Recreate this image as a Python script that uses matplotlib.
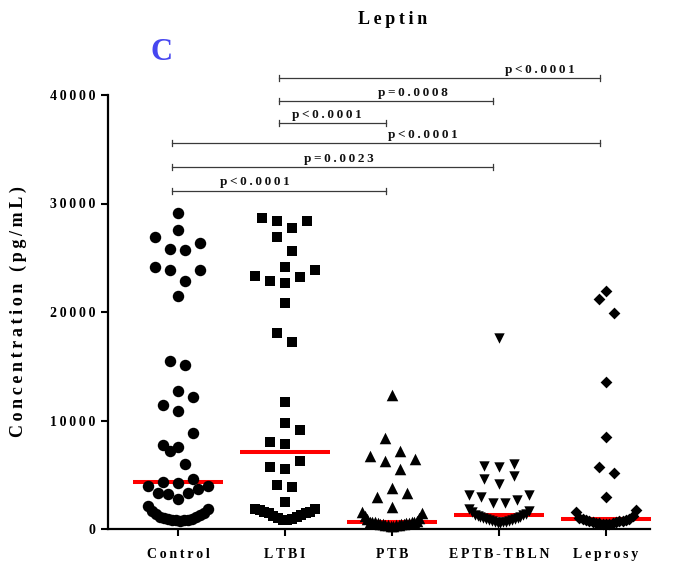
import numpy as np
import matplotlib
matplotlib.use("Agg")
import matplotlib.pyplot as plt

# ---------------- data ----------------
categories = ["Control", "LTBI", "PTB", "EPTB-TBLN", "Leprosy"]

control = [29100, 27530, 26940, 26330, 25840, 25690, 24150, 23870, 23870, 22890,
           21480, 15510, 15080, 12690, 12200, 11430, 10880, 8880, 7740, 7590,
           7190, 5960, 4580, 4360, 4270, 3960, 3960, 3690, 3350, 3350, 3200, 2740,
           2100, 1850, 1650, 1500, 1380, 1250, 1150, 1080, 1000, 950, 900, 870,
           830, 800, 790, 780]

ltbi = [28640, 28390, 28390, 27710, 26940, 25620, 24120, 23870, 23320, 23230,
        22860, 22700, 20800, 18100, 17240, 11740, 9800, 9130, 7990, 7810,
        6300, 5690, 5500, 4050, 3900, 2520,
        1820, 1820, 1750, 1600, 1600, 1500, 1450, 1300, 1200, 1100, 1000, 950, 850, 800]

ptb = [12350, 8360, 7220, 6730, 6450, 6300, 5530, 3750, 3290, 2980, 2000, 1600, 1450,
       1200, 1000, 880, 750, 680, 670, 650, 620, 600, 580, 550, 530, 500, 480, 450,
       430, 410, 390, 360, 340, 310, 280]

eptb = [17580, 5990, 5810, 5740, 4890, 4580, 4150, 3130, 3130, 2980, 2670, 2420, 2370,
        1850, 1700, 1550, 1400, 1290, 1260, 1210, 1150, 1090, 1030, 980, 930, 880,
        840, 800, 760, 720, 690, 650, 620, 580, 550]

leprosy = [21940, 21170, 19880, 13520, 8510, 5690, 5130, 2980, 1750, 1600,
           1200, 1050, 950, 890, 860, 820, 780, 740, 700, 660, 620, 590, 550, 510,
           480, 450, 420]

series = [control, ltbi, ptb, eptb, leprosy]
markers = ["o", "s", "^", "v", "D"]
marker_sizes = [68, 59, 69, 56, 36]

comparisons = [(0, 2), (0, 3), (0, 4), (1, 2), (1, 3), (1, 4)]
p_labels = ["p<0.0001", "p=0.0023", "p<0.0001", "p<0.0001", "p=0.0008", "p<0.0001"]
bracket_levels = [31180, 33390, 35550, 37390, 39450, 41540]
label_centers = [0.72, 1.50, 2.29, 1.39, 2.20, 3.38]

yticks = [0, 10000, 20000, 30000, 40000]

# ---------------- helpers ----------------
THIN = "\u2009"


def spaced(s):
    return THIN.join(s)


FONT = "Liberation Serif"

W, H = 679, 566
fig = plt.figure(figsize=(W / 100, H / 100), dpi=100)
ax_left, ax_right, ax_top, ax_bottom = 108, 650, 95, 529
ax = fig.add_axes([ax_left / W, 1 - ax_bottom / H,
                   (ax_right - ax_left) / W, (ax_bottom - ax_top) / H])

xmin, xmax = -0.654, 4.411
ymin, ymax = 0, 40000
ax.set_xlim(xmin, xmax)
ax.set_ylim(ymin, ymax)

px_per_x = (ax_right - ax_left) / (xmax - xmin)
px_per_y = (ax_bottom - ax_top) / (ymax - ymin)


def swarm_offsets(values, row_h, step, max_half):
    vals_all = np.asarray(values, dtype=float)
    order = np.argsort(vals_all, kind="stable")
    vals = vals_all[order]
    offs = np.zeros(len(vals))
    n = len(vals)
    i = 0
    while i < n:
        j = i
        while j < n and vals[j] <= vals[i] + row_h:
            j += 1
        k = j - i
        sp = step if k == 1 else min(step, 2 * max_half / (k - 1))
        for r in range(k):
            if k % 2 == 1:
                slot = 0 if r == 0 else ((r + 1) // 2) * (-1 if r % 2 == 1 else 1)
            else:
                m = r // 2 + 0.5
                slot = m if r % 2 == 0 else -m
            offs[i + r] = slot * sp
        i = j
    res = np.empty(n)
    res[order] = offs
    return res


row_h = 14.6 / px_per_y
step = 15 / px_per_x
max_half = 30 / px_per_x

for i, (vals, mk, ms) in enumerate(zip(series, markers, marker_sizes)):
    offs = swarm_offsets(vals, row_h, step, max_half)
    ax.scatter(i + offs, vals, marker=mk, s=ms, color="black",
               linewidths=0, zorder=3, clip_on=False)
    med = np.median(vals)
    half = 45 / px_per_x
    ax.plot([i - half, i + half], [med, med], color="#ff0000", lw=2.9,
            solid_capstyle="butt", zorder=2, clip_on=False)

# brackets
tick_h = 3 / px_per_y
for (a, b), lab, lev, lc in zip(comparisons, p_labels, bracket_levels, label_centers):
    x1, x2 = a - 0.055, b - 0.06
    ax.plot([x1, x2], [lev, lev], color="#3a3a3a", lw=0.9, clip_on=False, zorder=4)
    for xx in (x1, x2):
        ax.plot([xx, xx], [lev - tick_h, lev + tick_h], color="#3a3a3a", lw=0.9,
                clip_on=False, zorder=4)
    ax.text(lc, lev + 2.2 / px_per_y, spaced(lab), ha="center", va="bottom",
            fontsize=9.5, fontweight="bold", family=FONT, color="#111111")

# axes styling
for s in ["top", "right"]:
    ax.spines[s].set_visible(False)
for s in ["left", "bottom"]:
    ax.spines[s].set_linewidth(1.6)
    ax.spines[s].set_color("black")

ax.set_yticks(yticks)
ax.set_yticklabels([spaced(str(t)) for t in yticks], fontsize=10,
                   fontweight="bold", family=FONT)
ax.set_xticks(range(len(categories)))
ax.set_xticklabels([spaced(c) for c in categories], fontsize=10,
                   fontweight="bold", family=FONT)
ax.tick_params(axis="y", direction="out", length=5, width=1.5, pad=4)
ax.tick_params(axis="x", direction="out", length=5, width=1.5, pad=9)

fig.text(18 / W, 1 - 312 / H, spaced("Concentration (pg/mL)"), rotation=90,
         ha="center", va="center", fontsize=13, fontweight="bold", family=FONT)
fig.text(393 / W, 1 - 20 / H, spaced("Leptin"), ha="center", va="center",
         fontsize=13, fontweight="bold", family=FONT)
fig.text(161 / W, 1 - 53 / H, "C", ha="center", va="center",
         fontsize=22, fontweight="bold", family=FONT, color="#4646F0")

fig.savefig("out.png", dpi=100)
